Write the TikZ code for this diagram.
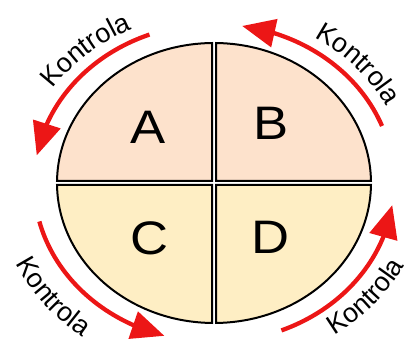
\documentclass[tikz,border=0pt]{standalone}
\usepackage{fontspec}
\setmainfont{Liberation Sans}
\usetikzlibrary{arrows.meta,bending,decorations.text}

\definecolor{peach}{RGB}{253,226,204}
\definecolor{cream}{RGB}{254,238,196}
\definecolor{arrowred}{RGB}{236,22,22}

\tikzset{
  quadrant/.style={draw=black, line width=2pt, line join=miter},
  letter/.style={inner sep=0pt, font=\fontsize{47}{47}\selectfont, xscale=1.12, transform shape},
  cycle arrow/.style={draw=arrowred, line width=4.3pt,
    -{Triangle[length=33pt,width=28pt]}},
  label text/.style={decorate, decoration={text along path, text align=center,
    text={|\fontsize{27}{27}\selectfont|Kontrola}}}
}

\begin{document}
\begin{tikzpicture}[x=1pt,y=1pt]
  \useasboundingbox (0,0) rectangle (410,345);
  \coordinate (c) at (214,162);

  \begin{scope}[shift={(c)}]
    % four quadrants of the ellipse, separated by a thin gap
    \path[quadrant, fill=peach] (2,2) -- (89.27:157pt and 140pt)
      arc[start angle=89.27, end angle=0.82, x radius=157pt, y radius=140pt] -- cycle;
    \path[quadrant, fill=peach] (-2,2) -- (90.73:157pt and 140pt)
      arc[start angle=90.73, end angle=179.18, x radius=157pt, y radius=140pt] -- cycle;
    \path[quadrant, fill=cream] (-2,-2) -- (180.82:157pt and 140pt)
      arc[start angle=180.82, end angle=269.27, x radius=157pt, y radius=140pt] -- cycle;
    \path[quadrant, fill=cream] (2,-2) -- (270.73:157pt and 140pt)
      arc[start angle=270.73, end angle=359.18, x radius=157pt, y radius=140pt] -- cycle;

    \node[letter] (A) at (-66,56) {A};
    \node[letter] (B) at (57,60) {B};
    \node[letter] (C) at (-64,-55) {C};
    \node[letter] (D) at (57,-54) {D};

    % red arrows around the ellipse
    \path[cycle arrow] (111:180pt and 159pt)
      arc[start angle=111, end angle=170, x radius=180pt, y radius=159pt];
    \path[cycle arrow] (21:180pt and 159pt)
      arc[start angle=21, end angle=81, x radius=180pt, y radius=159pt];
    \path[cycle arrow] (194:180pt and 159pt)
      arc[start angle=194, end angle=254, x radius=180pt, y radius=159pt];
    \path[cycle arrow] (292:180pt and 159pt)
      arc[start angle=292, end angle=352, x radius=180pt, y radius=159pt];

    % curved labels
    \path[label text] (172:193pt and 170pt)
      arc[start angle=172, end angle=92, x radius=193pt, y radius=170pt];
    \path[label text] (81.5:193pt and 170pt)
      arc[start angle=81.5, end angle=1.5, x radius=193pt, y radius=170pt];
    \path[label text] (177.5:218pt and 193pt)
      arc[start angle=177.5, end angle=257.5, x radius=218pt, y radius=193pt];
    \path[label text] (-79.6:213pt and 185pt)
      arc[start angle=-79.6, end angle=0.4, x radius=213pt, y radius=185pt];
  \end{scope}
\end{tikzpicture}
\end{document}
